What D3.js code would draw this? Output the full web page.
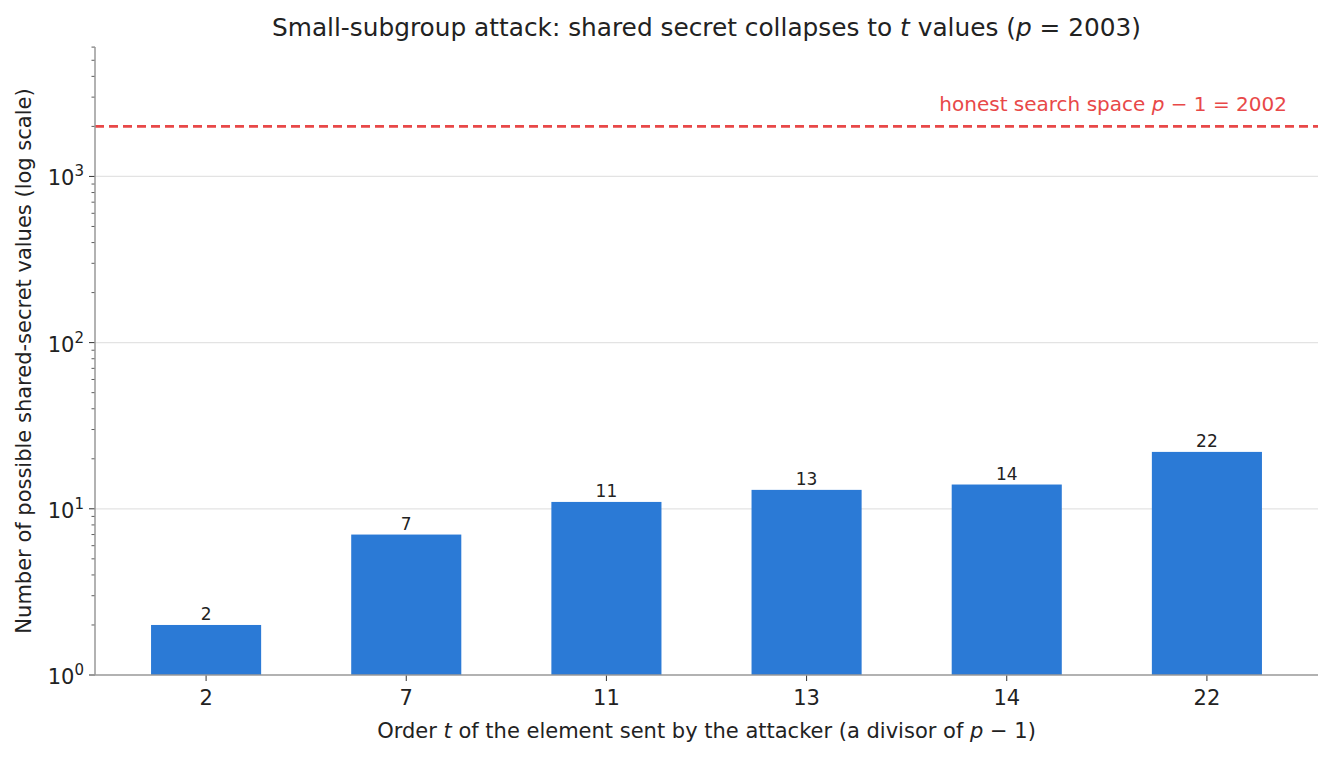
<!DOCTYPE html>
<html>
<head>
<meta charset="utf-8">
<script src="https://cdn.jsdelivr.net/npm/d3@7"></script>
<style>
  body { margin: 0; background: #fff; }
  svg text { font-family: "DejaVu Sans", sans-serif; fill: #222; }
</style>
</head>
<body>
<div id="chart"></div>
<script>
const orders = [2, 7, 11, 13, 14, 22];
const secretCounts = [2, 7, 11, 13, 14, 22];
const honestSpace = 2002;
const yTicks = [1, 10, 100, 1000];

const width = 1333, height = 757;
const margin = { top: 47, right: 15, bottom: 82, left: 95 };
const plotW = width - margin.left - margin.right;
const plotH = height - margin.top - margin.bottom;

const svg = d3.select("#chart").append("svg")
  .attr("width", width).attr("height", height);
const g = svg.append("g").attr("transform", `translate(${margin.left},${margin.top})`);

const x = d3.scaleLinear().domain([-0.555, orders.length - 1 + 0.555]).range([0, plotW]);
const y = d3.scaleLog().domain([1, 3 * 2003]).range([plotH, 0]);
const barW = (x(1) - x(0)) * 0.55;

// gridlines
g.selectAll(".grid").data(yTicks.slice(1)).enter().append("line")
  .attr("x1", 0).attr("x2", plotW)
  .attr("y1", d => y(d)).attr("y2", d => y(d))
  .attr("stroke", "#e3e3e3").attr("stroke-width", 1.2);

// bars
g.selectAll(".bar").data(secretCounts).enter().append("rect")
  .attr("x", (d, i) => x(i) - barW / 2)
  .attr("width", barW)
  .attr("y", d => y(d))
  .attr("height", d => plotH - y(d))
  .attr("fill", "#2b7ad6");

g.selectAll(".barlabel").data(secretCounts).enter().append("text")
  .attr("x", (d, i) => x(i))
  .attr("y", d => y(d) - 5)
  .attr("text-anchor", "middle")
  .style("font-size", "17px")
  .text(d => d);

// honest line
g.append("line")
  .attr("x1", 0).attr("x2", plotW)
  .attr("y1", y(honestSpace)).attr("y2", y(honestSpace))
  .attr("stroke", "#e84848").attr("stroke-width", 2.7)
  .attr("stroke-dasharray", "9,5");

const hl = g.append("text")
  .attr("x", x(5.4)).attr("y", y(honestSpace) - 15)
  .attr("text-anchor", "end")
  .style("font-size", "20px").style("fill", "#e84848");
hl.append("tspan").style("fill", "#e84848").text("honest search space ");
hl.append("tspan").style("fill", "#e84848").style("font-style", "italic").text("p");
hl.append("tspan").style("fill", "#e84848").text(" − 1 = " + honestSpace);

// y axis
const minor = [];
for (let e = 0; e < 4; e++) for (let k = 2; k <= 9; k++) {
  const v = k * Math.pow(10, e);
  if (v <= y.domain()[1]) minor.push(v);
}
g.selectAll(".minor").data(minor).enter().append("line")
  .attr("x1", -3.5).attr("x2", 0)
  .attr("y1", d => y(d)).attr("y2", d => y(d))
  .attr("stroke", "#333").attr("stroke-width", 0.8);
g.selectAll(".major").data(yTicks).enter().append("line")
  .attr("x1", -6).attr("x2", 0)
  .attr("y1", d => y(d)).attr("y2", d => y(d))
  .attr("stroke", "#333").attr("stroke-width", 1);
const yl = g.selectAll(".ylab").data(yTicks).enter().append("text")
  .attr("x", -11).attr("y", d => y(d) + 9)
  .attr("text-anchor", "end")
  .style("font-size", "21px");
yl.append("tspan").text("10");
yl.append("tspan").attr("dy", -9).style("font-size", "15px").text(d => Math.round(Math.log10(d)));

// x axis ticks
g.selectAll(".xt").data(orders).enter().append("line")
  .attr("x1", (d, i) => x(i)).attr("x2", (d, i) => x(i))
  .attr("y1", plotH).attr("y2", plotH + 6)
  .attr("stroke", "#333").attr("stroke-width", 1);
g.selectAll(".xlab").data(orders).enter().append("text")
  .attr("x", (d, i) => x(i)).attr("y", plotH + 30)
  .attr("text-anchor", "middle")
  .style("font-size", "21px")
  .text(d => d);

// spines
g.append("line").attr("x1", 0).attr("x2", 0).attr("y1", 0).attr("y2", plotH)
  .attr("stroke", "#999").attr("stroke-width", 1.5);
g.append("line").attr("x1", 0).attr("x2", plotW).attr("y1", plotH).attr("y2", plotH)
  .attr("stroke", "#999").attr("stroke-width", 1.5);

// title
const t = svg.append("text")
  .attr("x", margin.left + plotW / 2).attr("y", 36)
  .attr("text-anchor", "middle").style("font-size", "24.8px");
t.append("tspan").text("Small-subgroup attack: shared secret collapses to ");
t.append("tspan").style("font-style", "italic").text("t");
t.append("tspan").text(" values (");
t.append("tspan").style("font-style", "italic").text("p");
t.append("tspan").text(" = 2003)");

// x label
const xl = svg.append("text")
  .attr("x", margin.left + plotW / 2).attr("y", 738)
  .attr("text-anchor", "middle").style("font-size", "21px");
xl.append("tspan").text("Order ");
xl.append("tspan").style("font-style", "italic").text("t");
xl.append("tspan").text(" of the element sent by the attacker (a divisor of ");
xl.append("tspan").style("font-style", "italic").text("p");
xl.append("tspan").text(" − 1)");

// y label
svg.append("text")
  .attr("transform", `translate(31,${margin.top + plotH / 2}) rotate(-90)`)
  .attr("text-anchor", "middle").style("font-size", "21px")
  .text("Number of possible shared-secret values (log scale)");
</script>
</body>
</html>
